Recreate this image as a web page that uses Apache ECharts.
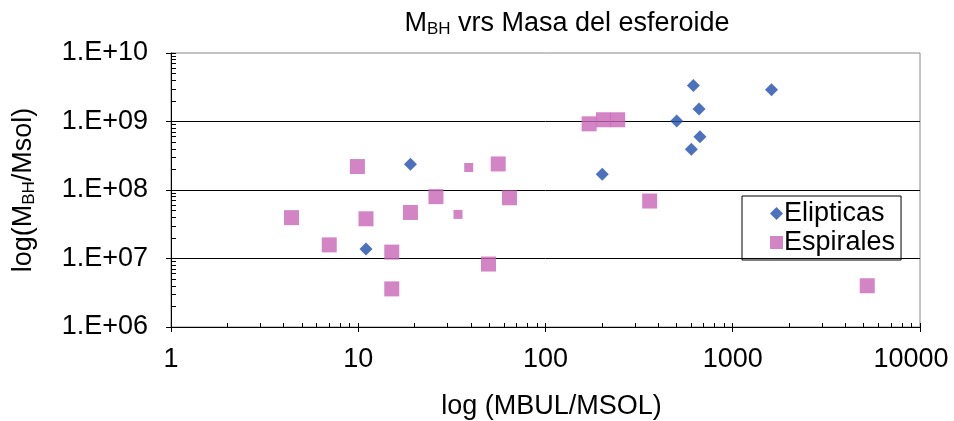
<!DOCTYPE html>
<html>
<head>
<meta charset="utf-8">
<script src="https://cdn.jsdelivr.net/npm/echarts@6/dist/echarts.min.js"></script>
<style>html,body{margin:0;padding:0;background:#fff}#c{width:954px;height:421px}</style>
</head>
<body>
<div id="c"></div>
<script>
// ---- data ----
var elipticasX = [11, 19, 201, 502, 601, 616, 661, 668, 1610];
var elipticasY = [1.38e7, 2.38e8, 1.7e8, 1.02e9, 3.95e8, 3.36e9, 1.52e9, 6.0e8, 2.9e9];
var espiralesX = [4.4, 7.0, 9.9, 11.0, 15.1, 15.1, 19.0, 26, 49.6, 55.9, 64.2, 171, 204, 243, 360, 5227];
var espiralesY = [3.95e7, 1.58e7, 2.2e8, 3.8e7, 1.24e7, 3.6e6, 4.7e7, 8.0e7, 8.3e6, 2.4e8, 7.7e7, 9.25e8, 1.06e9, 1.06e9, 6.9e7, 4.0e6];
var espiralesSmallX = [34.1, 38.9];
var espiralesSmallY = [4.4e7, 2.13e8];
var xTickLabels = ['1', '10', '100', '1000', '10000'];
var yTickLabels = ['1.E+06', '1.E+07', '1.E+08', '1.E+09', '1.E+10'];

function pairs(xs, ys) { return xs.map(function (x, i) { return [x, ys[i]]; }); }
function minorValues(lo, hi) {
  var v = [];
  for (var d = lo; d < hi; d *= 10) { for (var k = 1; k <= 10; k++) v.push(k * d); }
  return v;
}
var FONT = 'Liberation Sans, Arial, sans-serif';
var FS = 27;
var chart = echarts.init(document.getElementById('c'));
var blue = '#1f4fae', pink = '#c865b6';
chart.setOption({
  animation: false,
  backgroundColor: '#fff',
  textStyle: { fontFamily: FONT, color: '#000' },
  title: {
    text: 'M{s|BH} vrs Masa del esferoide',
    left: 562, top: 4, textAlign: 'center',
    textStyle: {
      fontFamily: FONT, fontSize: 27, fontWeight: 'normal', color: '#000',
      rich: { s: { fontFamily: FONT, fontSize: 17, color: '#000', padding: [12, 0, 0, 0] } }
    }
  },
  grid: { left: 171, right: 34, top: 53, bottom: 94, outerBoundsMode: 'none', containLabel: false,
    show: true, borderColor: '#888', borderWidth: 1, backgroundColor: '#fff' },
  legend: {
    data: ['Elipticas', 'Espirales'],
    orient: 'vertical', left: 742, top: 196,
    borderColor: '#000', borderWidth: 1, padding: [3, 6, 3, 28], itemGap: 0,
    itemWidth: 13, itemHeight: 13,
    textStyle: { fontFamily: FONT, fontSize: FS, lineHeight: 29, color: '#000', padding: [0, 0, 0, -4] }
  },
  xAxis: [{
    type: 'log', logBase: 10, min: 1, max: 10000,
    name: 'log (MBUL/MSOL)', nameLocation: 'middle', nameGap: 66,
    nameTextStyle: { fontFamily: FONT, fontSize: FS, color: '#000', padding: [0, 0, 0, 12] },
    axisLine: { show: true, lineStyle: { color: '#000', width: 1 } },
    axisTick: { show: true, inside: false, length: 5, lineStyle: { color: '#000' } },
    axisLabel: { fontFamily: FONT, fontSize: FS, color: '#000', margin: 19,
      rich: { last: { fontFamily: FONT, fontSize: FS, color: '#000', padding: [0, 18, 0, 0] } },
      formatter: function (v) {
        var i = Math.round(Math.log10(v));
        var t = xTickLabels[i] || '';
        return i === xTickLabels.length - 1 ? '{last|' + t + '}' : t;
      } },
    splitLine: { show: false }
  }, {
    type: 'log', logBase: 10, min: 1, max: 10000, position: 'bottom', gridIndex: 0,
    axisLine: { show: false },
    axisTick: { show: true, inside: true, length: 4, customValues: minorValues(1, 10000), lineStyle: { color: '#000' } },
    axisLabel: { show: false }, splitLine: { show: false }
  }],
  yAxis: [{
    type: 'log', logBase: 10, min: 1e6, max: 1e10,
    name: 'log(M{s|BH}/Msol)', nameLocation: 'middle', nameGap: 133, nameRotate: 90,
    nameTextStyle: { fontFamily: FONT, fontSize: FS, color: '#000',
      rich: { s: { fontFamily: FONT, fontSize: 17, color: '#000', padding: [12, 0, 0, 0] } } },
    axisLine: { show: true, lineStyle: { color: '#000', width: 1 } },
    axisTick: { show: true, inside: false, length: 5, lineStyle: { color: '#000' } },
    axisLabel: { fontFamily: FONT, fontSize: FS, color: '#000', margin: 23,
      formatter: function (v) { var i = Math.round(Math.log10(v)) - 6; return yTickLabels[i] || ''; } },
    splitLine: { show: true, showMinLine: false, showMaxLine: false, lineStyle: { color: '#000', width: 1 } }
  }, {
    type: 'log', logBase: 10, min: 1e6, max: 1e10, position: 'left', gridIndex: 0,
    axisLine: { show: false },
    axisTick: { show: true, inside: true, length: 5, customValues: minorValues(1e6, 1e10), lineStyle: { color: '#000' } },
    axisLabel: { show: false }, splitLine: { show: false }
  }],
  series: [{
    name: 'Elipticas', type: 'scatter', xAxisIndex: 0, yAxisIndex: 0,
    symbol: 'diamond', symbolSize: 13, itemStyle: { color: blue },
    data: pairs(elipticasX, elipticasY)
  }, {
    name: 'Espirales', type: 'scatter', xAxisIndex: 0, yAxisIndex: 0,
    symbol: 'rect', symbolSize: 15, itemStyle: { color: pink },
    data: pairs(espiralesX, espiralesY)
  }, {
    name: 'Espirales', type: 'scatter', xAxisIndex: 0, yAxisIndex: 0,
    symbol: 'rect', symbolSize: 9, itemStyle: { color: pink },
    data: pairs(espiralesSmallX, espiralesSmallY)
  }]
});
</script>
</body>
</html>
